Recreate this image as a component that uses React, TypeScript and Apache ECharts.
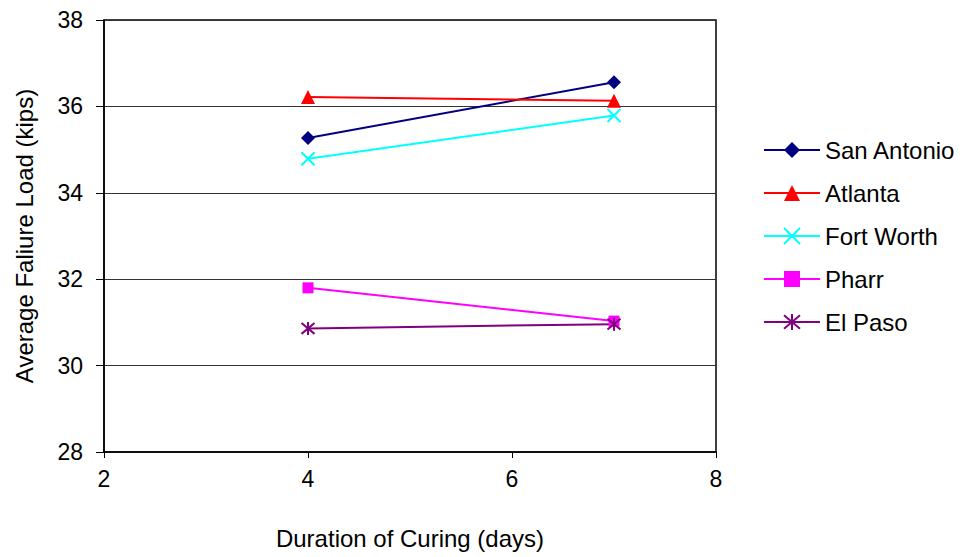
import React, { useEffect, useRef } from "react";
import * as echarts from "echarts";

const days = [4, 7];
const sanAntonio = [35.27, 36.56];
const atlanta = [36.22, 36.13];
const fortWorth = [34.79, 35.79];
const pharr = [31.8, 31.03];
const elPaso = [30.86, 30.96];

const seriesNames = ["San Antonio", "Atlanta", "Fort Worth", "Pharr", "El Paso"];
const seriesColors = ["#000080", "#FF0000", "#00FFFF", "#FF00FF", "#800080"];
const yTicks = [28, 30, 32, 34, 36, 38];
const xTicks = [2, 4, 6, 8];

const FONT = "Liberation Sans, Arial, sans-serif";

export default function App() {
  const ref = useRef<HTMLDivElement>(null);
  useEffect(() => {
    if (!ref.current) return;
    const chart = echarts.init(ref.current, undefined, { renderer: "svg" });
    const allData = [sanAntonio, atlanta, fortWorth, pharr, elPaso];
    const symbols = [
      "diamond",
      "triangle",
      "path://M0,0L10,10M10,0L0,10",
      "rect",
      "path://M0,0L10,10M10,0L0,10M5,-1L5,11",
    ];
    const sizes = [14, 14, 13, 11, 13];
    const series = allData.map((vals, i) => {
      const strokeOnly = i === 2 || i === 4;
      return {
        name: seriesNames[i],
        type: "line",
        data: vals.map((v, j) => [days[j], v]),
        symbol: symbols[i],
        symbolSize: sizes[i],
        showSymbol: true,
        lineStyle: { color: seriesColors[i], width: 2 },
        itemStyle: strokeOnly
          ? { color: "transparent", borderColor: seriesColors[i], borderWidth: 2 }
          : { color: seriesColors[i], borderWidth: 0 },
        emphasis: { disabled: true },
        z: 3,
      };
    });
    chart.setOption({
      animation: false,
      backgroundColor: "#fff",
      textStyle: { fontFamily: FONT },
      grid: { left: 104, right: 258, top: 20, bottom: 105, show: true, borderColor: "#000", borderWidth: 1.5 },
      legend: {
        orient: "vertical",
        left: 758,
        top: 133,
        itemWidth: 56,
        itemHeight: 20,
        itemGap: 19,
        textStyle: { fontSize: 24, color: "#000", fontFamily: FONT, padding: [0, 0, 0, 0] },
        data: seriesNames.map((n, i) => ({
          name: n,
          itemStyle: i === 2 || i === 4 ? { color: "transparent", borderColor: seriesColors[i], borderWidth: 2 } : undefined,
        })),
      },
      xAxis: {
        type: "value",
        min: xTicks[0],
        max: xTicks[xTicks.length - 1],
        interval: 2,
        name: "Duration of Curing (days)",
        nameLocation: "middle",
        nameGap: 74,
        nameTextStyle: { fontSize: 24, color: "#000", fontFamily: FONT },
        axisLine: { lineStyle: { color: "#000", width: 1.5 } },
        axisTick: { show: true, length: 6, lineStyle: { color: "#000" } },
        axisLabel: { fontSize: 23, color: "#000", margin: 15, fontFamily: FONT },
        splitLine: { show: false },
      },
      yAxis: {
        type: "value",
        min: yTicks[0],
        max: yTicks[yTicks.length - 1],
        interval: 2,
        name: "Average Faliure Load (kips)",
        nameLocation: "middle",
        nameGap: 68,
        nameRotate: 90,
        nameTextStyle: { fontSize: 24, color: "#000", fontFamily: FONT },
        axisLine: { show: true, lineStyle: { color: "#000", width: 1.5 } },
        axisTick: { show: true, length: 8, lineStyle: { color: "#000" } },
        axisLabel: { fontSize: 23, color: "#000", margin: 21, fontFamily: FONT },
        splitLine: { show: true, lineStyle: { color: "#333", width: 1 } },
      },
      series,
    });
    return () => chart.dispose();
  }, []);
  return <div ref={ref} style={{ width: 974, height: 557, position: "absolute", left: 0, top: 0 }} />;
}
